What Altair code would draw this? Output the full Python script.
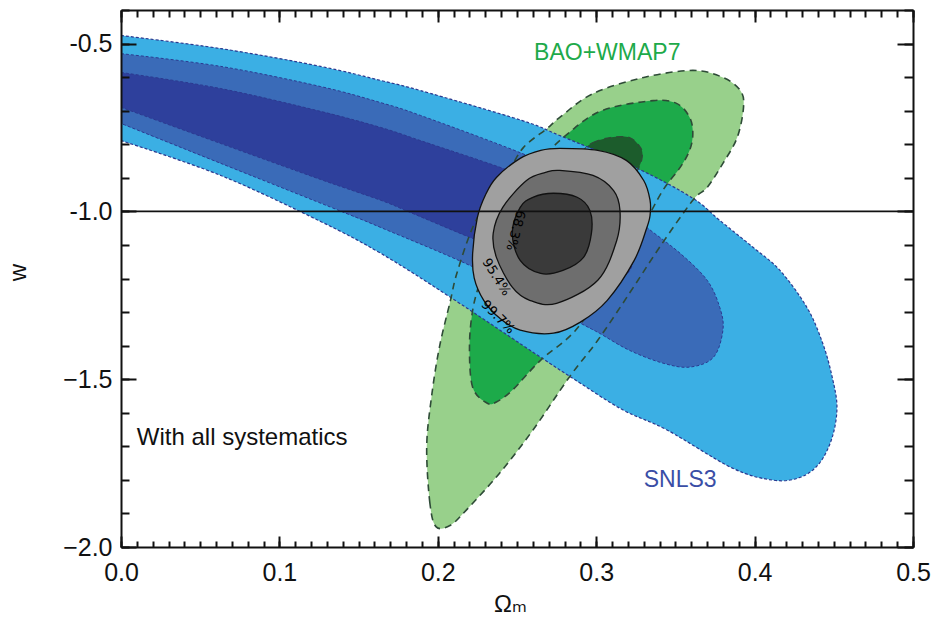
import altair as alt
import pandas as pd

# ---------------- data (Omega_m, w) ----------------
# SNLS3 contours (open paths: start at the upper edge on Omega_m = 0, end on the lower edge at 0)
SNLS3_997_X = [0.000, 0.063, 0.126, 0.164, 0.189, 0.253, 0.277, 0.326, 0.361, 0.378, 0.399, 0.416,
               0.433, 0.443, 0.449, 0.452, 0.449, 0.441, 0.429, 0.412, 0.386, 0.345, 0.317, 0.290,
               0.266, 0.208, 0.164, 0.126, 0.063, 0.000]
SNLS3_997_Y = [-0.476, -0.515, -0.568, -0.610, -0.640, -0.729, -0.774, -0.872, -0.961, -1.027, -1.107, -1.176,
               -1.286, -1.393, -1.494, -1.583, -1.673, -1.750, -1.792, -1.801, -1.765, -1.652, -1.592, -1.512,
               -1.438, -1.256, -1.125, -1.030, -0.893, -0.789]

SNLS3_954_X = [0.000, 0.063, 0.126, 0.164, 0.189, 0.253, 0.290, 0.315, 0.332, 0.353, 0.370, 0.378,
               0.380, 0.374, 0.359, 0.342, 0.321, 0.302, 0.290, 0.227, 0.164, 0.139, 0.063, 0.000]
SNLS3_954_Y = [-0.530, -0.568, -0.628, -0.676, -0.714, -0.827, -0.908, -0.982, -1.048, -1.125, -1.205, -1.286,
               -1.354, -1.435, -1.464, -1.452, -1.414, -1.363, -1.333, -1.176, -1.048, -1.000, -0.857, -0.738]

SNLS3_683_X = [0.000, 0.063, 0.126, 0.164, 0.189, 0.253, 0.290, 0.315, 0.323, 0.312, 0.283, 0.246,
               0.220, 0.181, 0.164, 0.126, 0.063, 0.000]
SNLS3_683_Y = [-0.586, -0.634, -0.702, -0.750, -0.789, -0.893, -0.982, -1.071, -1.152, -1.205, -1.190, -1.125,
               -1.077, -1.000, -0.967, -0.905, -0.798, -0.690]

# BAO+WMAP7 contours (closed)
BAO_997_X = [0.199, 0.195, 0.193, 0.196, 0.201, 0.208, 0.212, 0.222, 0.233, 0.244, 0.254, 0.269, 0.277,
             0.298, 0.330, 0.361, 0.380, 0.391, 0.393, 0.389, 0.380, 0.370, 0.361, 0.340, 0.321, 0.301,
             0.283, 0.260, 0.239, 0.218, 0.208]
BAO_997_Y = [-1.940, -1.869, -1.702, -1.554, -1.405, -1.265, -1.185, -1.048, -0.958, -0.887, -0.810, -0.753, -0.720,
             -0.649, -0.601, -0.580, -0.601, -0.640, -0.690, -0.780, -0.857, -0.929, -0.967, -1.107, -1.244, -1.384,
             -1.494, -1.652, -1.780, -1.890, -1.935]

BAO_954_X = [0.231, 0.222, 0.220, 0.222, 0.227, 0.236, 0.249, 0.265, 0.283, 0.304, 0.336, 0.351, 0.359,
             0.361, 0.359, 0.353, 0.342, 0.328, 0.309, 0.287, 0.265, 0.247, 0.237]
BAO_954_Y = [-1.571, -1.524, -1.405, -1.295, -1.205, -1.086, -0.967, -0.848, -0.765, -0.699, -0.670, -0.679, -0.720,
             -0.768, -0.818, -0.869, -0.938, -1.057, -1.205, -1.354, -1.443, -1.533, -1.568]

BAO_683_X = [0.290, 0.298, 0.309, 0.321, 0.328, 0.329, 0.326, 0.315, 0.299, 0.280, 0.265, 0.258, 0.261, 0.271, 0.280]
BAO_683_Y = [-0.824, -0.795, -0.780, -0.780, -0.810, -0.839, -0.878, -0.967, -1.116, -1.250, -1.280, -1.220, -1.086,
             -0.952, -0.863]

# Combined contours (closed)
ALL_997_X = [0.277, 0.301, 0.319, 0.330, 0.334, 0.334, 0.332, 0.324, 0.307, 0.290, 0.273, 0.252, 0.239,
             0.229, 0.223, 0.222, 0.225, 0.230, 0.237, 0.252, 0.265]
ALL_997_Y = [-0.812, -0.818, -0.848, -0.908, -0.967, -1.012, -1.048, -1.146, -1.265, -1.330, -1.363, -1.354, -1.318,
             -1.265, -1.199, -1.125, -1.018, -0.952, -0.899, -0.842, -0.818]

ALL_954_X = [0.277, 0.298, 0.311, 0.315, 0.313, 0.301, 0.275, 0.258, 0.247, 0.237, 0.235, 0.241, 0.256, 0.268]
ALL_954_Y = [-0.878, -0.893, -0.938, -0.997, -1.086, -1.205, -1.274, -1.265, -1.226, -1.137, -1.065, -0.988, -0.908,
             -0.884]

ALL_683_X = [0.273, 0.288, 0.296, 0.297, 0.292, 0.279, 0.265, 0.252, 0.247, 0.252, 0.260]
ALL_683_Y = [-0.946, -0.958, -0.997, -1.065, -1.137, -1.176, -1.185, -1.146, -1.065, -0.988, -0.958]

# contour level labels
CL_TEXT = ["68.3%", "95.4%", "99.7%"]
CL_X = [0.249, 0.237, 0.238]
CL_Y = [-1.057, -1.196, -1.315]

# annotations
ANN_TEXT = ["BAO+WMAP7", "SNLS3", "With all systematics"]
ANN_X = [0.307, 0.353, 0.010]
ANN_Y = [-0.527, -1.801, -1.676]

HLINE_W = [-1.0]

# axis ticks
XMAJOR = [0.0, 0.1, 0.2, 0.3, 0.4, 0.5]
XMINOR = [round(0.01 * i, 2) for i in range(51)]
YMAJOR = [-2.0, -1.5, -1.0, -0.5]
YMINOR = [round(-2.0 + 0.1 * i, 1) for i in range(17)]

# ---------------- styles ----------------
W, H = 792, 537
FONT = "Liberation Sans"
INK = "#111111"
CL_ANGLES = [105, 58, 45]
ANN_COLORS = ["#1DAA4A", "#3A4EA6", "#111111"]
ANN_ALIGN = ["center", "center", "left"]
ANN_SIZE = [23, 23, 24]

XS = alt.Scale(domain=[0.0, 0.5], nice=False, zero=False)
YS = alt.Scale(domain=[-2.0, -0.4], nice=False, zero=False)


def poly_df(xs, ys):
    return pd.DataFrame({"om": list(xs), "w": list(ys), "i": list(range(len(xs)))})


def poly(xs, ys, stroke, width, fill=None, dash=None, interp="cardinal-closed"):
    kw = dict(stroke=stroke, strokeWidth=width, clip=True, strokeJoin="round", interpolate=interp)
    if fill is not None:
        kw["fill"] = fill
    if dash is not None:
        kw["strokeDash"] = dash
    return alt.Chart(poly_df(xs, ys)).mark_line(**kw).encode(
        x=alt.X("om:Q", scale=XS, axis=None),
        y=alt.Y("w:Q", scale=YS, axis=None),
        order=alt.Order("i:Q"),
    )


layers = []

# green (below blue)
G_DASH = [7, 5]
G_LINE = "#2E4B37"
layers.append(poly(BAO_997_X, BAO_997_Y, G_LINE, 0, fill="#98D08B"))
layers.append(poly(BAO_954_X, BAO_954_Y, G_LINE, 0, fill="#1DAA4A"))
layers.append(poly(BAO_683_X, BAO_683_Y, G_LINE, 0, fill="#1C5C2C"))

# blue
B_LINE = "#2B3990"
B_DASH = [3, 2]
layers.append(poly(SNLS3_997_X, SNLS3_997_Y, B_LINE, 1.2, fill="#3BAFE4", dash=B_DASH, interp="cardinal"))
layers.append(poly(SNLS3_954_X, SNLS3_954_Y, B_LINE, 1.0, fill="#3A6BB8", dash=B_DASH, interp="cardinal"))
layers.append(poly(SNLS3_683_X, SNLS3_683_Y, B_LINE, 1.0, fill="#2E409C", dash=B_DASH, interp="cardinal"))

# green dashed outlines on top of blue
layers.append(poly(BAO_997_X, BAO_997_Y, G_LINE, 1.6, dash=G_DASH))
layers.append(poly(BAO_954_X, BAO_954_Y, G_LINE, 1.6, dash=G_DASH))
layers.append(poly(BAO_683_X, BAO_683_Y, G_LINE, 1.2, dash=G_DASH))

# combined grey
layers.append(poly(ALL_997_X, ALL_997_Y, "#111111", 1.3, fill="#A0A0A0"))
layers.append(poly(ALL_954_X, ALL_954_Y, "#111111", 1.3, fill="#6E6E6E"))
layers.append(poly(ALL_683_X, ALL_683_Y, "#111111", 1.3, fill="#3A3A3A"))

# w = -1 line
layers.append(
    alt.Chart(pd.DataFrame({"w": HLINE_W})).mark_rule(color=INK, strokeWidth=1.6).encode(
        y=alt.Y("w:Q", scale=YS, axis=None)
    )
)

# contour level labels
for t, x, y, a in zip(CL_TEXT, CL_X, CL_Y, CL_ANGLES):
    layers.append(
        alt.Chart(pd.DataFrame({"om": [x], "w": [y], "t": [t]})).mark_text(
            font="DejaVu Sans", fontSize=13, color="#000000", angle=a, align="center", baseline="middle"
        ).encode(
            x=alt.X("om:Q", scale=XS, axis=None),
            y=alt.Y("w:Q", scale=YS, axis=None),
            text="t:N",
        )
    )

# annotations
for t, x, y, c, al, s in zip(ANN_TEXT, ANN_X, ANN_Y, ANN_COLORS, ANN_ALIGN, ANN_SIZE):
    layers.append(
        alt.Chart(pd.DataFrame({"om": [x], "w": [y], "t": [t]})).mark_text(
            font=FONT, fontSize=s, color=c, align=al, baseline="middle"
        ).encode(
            x=alt.X("om:Q", scale=XS, axis=None),
            y=alt.Y("w:Q", scale=YS, axis=None),
            text="t:N",
        )
    )

# ---------------- axes (frame with inward ticks) ----------------
AX_DUMMY = pd.DataFrame({"om": [0.25], "w": [-1.0]})


def axis_layer(xaxis, yaxis):
    return alt.Chart(AX_DUMMY).mark_point(opacity=0).encode(
        x=alt.X("om:Q", scale=XS, axis=xaxis),
        y=alt.Y("w:Q", scale=YS, axis=yaxis),
    )


def tick_axis(orient, offset, values, size, domain=False):
    kw = dict(orient=orient, offset=offset, values=values, tickSize=size, tickColor=INK, tickWidth=2,
              labels=False, grid=False, title=None, zindex=2, domain=domain)
    if domain:
        kw.update(domainColor=INK, domainWidth=2)
    return alt.Axis(**kw)


x_label_axis = alt.Axis(
    orient="bottom", values=XMAJOR, format=".1f", ticks=False, grid=False,
    domain=True, domainColor=INK, domainWidth=2, zindex=2,
    labelFont=FONT, labelFontSize=25, labelColor=INK, labelPadding=13,
    labelFlush=False, labelOverlap=False,
    title="Ωₘ", titleFont="Liberation Sans, DejaVu Sans", titleFontSize=24, titleFontWeight="normal",
    titleColor=INK, titleX=389, titleY=64, titleAlign="center", titleBaseline="alphabetic",
)
y_label_axis = alt.Axis(
    orient="left", values=YMAJOR, ticks=False, grid=False,
    labelExpr="(datum.value < -1.2 ? '\u2212' : '-') + format(abs(datum.value), '.1f')",
    domain=True, domainColor=INK, domainWidth=2, zindex=2,
    labelFont=FONT, labelFontSize=25, labelColor=INK, labelPadding=9, labelOverlap=False,
    title="w", titleFont=FONT, titleFontSize=24, titleFontWeight="normal", titleColor=INK,
    titleAngle=270, titleX=-103, titleY=262, titleAlign="center", titleBaseline="middle",
)

layers.append(axis_layer(x_label_axis, y_label_axis))
layers.append(axis_layer(tick_axis("top", -H, XMAJOR, 11), tick_axis("right", -W, YMAJOR, 15)))
layers.append(axis_layer(tick_axis("top", -H, XMINOR, 6), tick_axis("right", -W, YMINOR, 8)))
layers.append(axis_layer(tick_axis("bottom", -H, XMAJOR, 12, domain=True),
                         tick_axis("left", -W, YMAJOR, 16, domain=True)))
layers.append(axis_layer(tick_axis("bottom", -H, XMINOR, 7), tick_axis("left", -W, YMINOR, 9)))

chart = (
    alt.layer(*layers)
    .resolve_axis(x="independent", y="independent")
    .properties(
        width=W, height=H,
        padding={"left": 121, "top": 10, "right": 26, "bottom": 70},
        autosize=alt.AutoSizeParams(type="none"),
        background="white",
    )
    .configure_view(stroke=None)
)

chart.save("out.html", embed_options={"renderer": "svg", "actions": False})
